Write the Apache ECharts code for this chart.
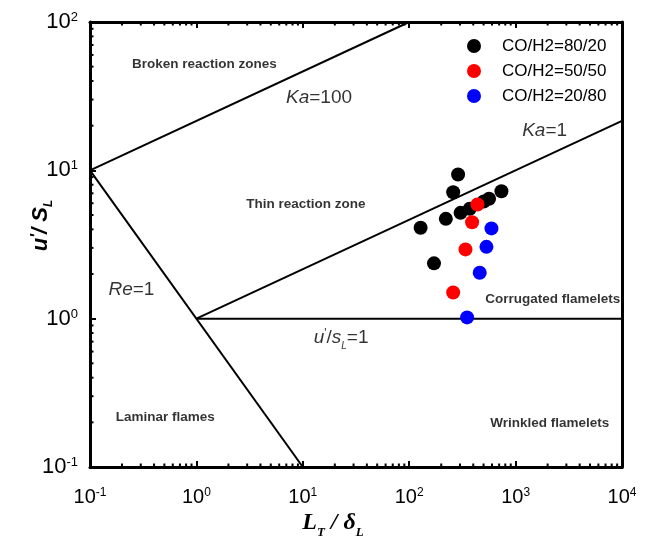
<!DOCTYPE html>
<html><head><meta charset="utf-8">
<script src="https://cdn.jsdelivr.net/npm/echarts@6/dist/echarts.min.js"></script>
<style>html,body{margin:0;padding:0;background:#fff}#c{width:649px;height:543px}</style>
</head><body><div id="c"></div>
<script>
// ---- data ----
const seriesNames = ['CO/H2=80/20', 'CO/H2=50/50', 'CO/H2=20/80'];
const co80 = [[128, 4.10], [171, 2.36], [221, 4.71], [259, 7.12], [288, 9.37], [304, 5.17], [371, 5.51], [502, 6.16], [563, 6.43], [736, 7.23]];
const co50 = [[438, 5.88], [390, 4.47], [338, 2.93], [259, 1.50]];
const co20 = [[593, 4.06], [532, 3.05], [460, 2.04], [350, 1.02]];
const lineKa100 = [[0.1, 10], [100, 100]];
const lineKa1 = [[1, 1], [10000, 21.544]];
const lineRe1 = [[0.1, 10], [10, 0.1]];
const lineU1 = [[1, 1], [10000, 1]];
const xTickExp = ['-1', '0', '1', '2', '3', '4'];
const yTickExp = ['-1', '0', '1', '2'];
const xDecades = [0.1, 1, 10, 100, 1000];
const yDecades = [0.1, 1, 10];
const minorMult = [2, 3, 4, 5, 6, 7, 8, 9];
const regionLabels = [
  ['Broken reaction zones', 1.19, 51.6],
  ['Thin reaction zone', 10.7, 5.88],
  ['Corrugated flamelets', 2230, 1.35],
  ['Laminar flames', 0.51, 0.216],
  ['Wrinkled flamelets', 2090, 0.197]
];
const lineLabels = [
  ['{i|Ka}=100', 14.2, 30.9],
  ['{i|Ka}=1', 1875, 18.5],
  ['{i|Re}=1', 0.245, 1.57],
  ["{i|u}{p|'}{n|/}{i|s}{sub|L}{n|=1}", 22.9, 0.748]
];
// ---------------

const SANS = '"Liberation Sans", Arial, sans-serif';
const SERIF = '"Liberation Serif", "Times New Roman", serif';

const xMinor = [], yMinor = [];
xDecades.forEach(d => minorMult.forEach(m => xMinor.push(d * m)));
yDecades.forEach(d => minorMult.forEach(m => yMinor.push(d * m)));

const minorData = [];
xMinor.forEach(v => { minorData.push([v, 0.1, 0]); minorData.push([v, 100, 1]); });
yMinor.forEach(v => { minorData.push([0.1, v, 2]); });

function expIndex(v) { return Math.round(Math.log10(v)); }

const chart = echarts.init(document.getElementById('c'), null, {renderer: 'canvas'});
const lineStyle = {color: '#000', width: 2};
function lineSeries(data) {
  return {type: 'line', data: data, symbol: 'none', silent: true, lineStyle: lineStyle, z: 2, animation: false};
}
const option = {
  animation: false,
  backgroundColor: '#fff',
  grid: {left: 90, right: 27, top: 22, bottom: 76, containLabel: false, outerBoundsMode: 'none'},
  legend: {
    data: seriesNames, orient: 'vertical', left: 462, top: 31,
    itemWidth: 46, itemHeight: 14, itemGap: 5, icon: 'circle',
    textStyle: {fontSize: 17, lineHeight: 20, fontFamily: SANS, color: '#000'}
  },
  xAxis: [{
    type: 'log', logBase: 10, min: 0.1, max: 10000,
    position: 'bottom',
    axisLine: {lineStyle: {color: '#000', width: 3}},
    axisTick: {inside: true, length: 6, lineStyle: {width: 2, color: '#000'}},
    splitLine: {show: false},
    axisLabel: {
      margin: 12, color: '#000', padding: [8, 0, 0, 0],
      formatter: v => '{b|10}{s|' + xTickExp[expIndex(v) + 1] + '}',
      rich: {b: {fontSize: 20, fontFamily: SANS}, s: {fontSize: 12, fontFamily: SANS, verticalAlign: 'top'}}
    },
    name: '{b|L}{sub|T}{b| / δ}{sub|L}', nameLocation: 'middle', nameGap: 44, nameMoveOverlap: false,
    nameTextStyle: {
      padding: [0, 46, 0, 0],
      rich: {
        b: {fontSize: 24, fontFamily: SERIF, fontWeight: 'bold', fontStyle: 'italic', color: '#000'},
        sub: {fontSize: 13, fontFamily: SERIF, fontWeight: 'bold', fontStyle: 'italic', color: '#000', verticalAlign: 'bottom', padding: [0, 0, -4, 0]}
      }
    }
  }, {
    type: 'log', logBase: 10, min: 0.1, max: 10000, position: 'top',
    axisLine: {lineStyle: {color: '#000', width: 3}},
    axisTick: {inside: true, length: 6, lineStyle: {width: 2, color: '#000'}},
    axisLabel: {show: false}, splitLine: {show: false}
  }],
  yAxis: [{
    type: 'log', logBase: 10, min: 0.1, max: 100,
    axisLine: {show: true, lineStyle: {color: '#000', width: 3}},
    axisTick: {show: true, inside: true, length: 6, lineStyle: {width: 2, color: '#000'}},
    splitLine: {show: false},
    axisLabel: {
      margin: 12, color: '#000',
      formatter: v => '{b|10}{s|' + yTickExp[expIndex(v) + 1] + '}',
      rich: {b: {fontSize: 22, fontFamily: SANS}, s: {fontSize: 13, fontFamily: SANS, verticalAlign: 'top'}}
    },
    name: "{b|u}{p|'}{b|/ S}{sub|L}", nameLocation: 'middle', nameGap: 38, nameRotate: 90, nameMoveOverlap: false,
    nameTextStyle: {
      padding: [0, 0, 0, 38],
      rich: {
        b: {fontSize: 22, fontFamily: SANS, fontWeight: 'bold', fontStyle: 'italic', color: '#000'},
        p: {fontSize: 16, fontFamily: SANS, fontWeight: 'bold', fontStyle: 'italic', color: '#000', verticalAlign: 'top'},
        sub: {fontSize: 12, fontFamily: SANS, fontWeight: 'bold', fontStyle: 'italic', color: '#000', verticalAlign: 'bottom', padding: [0, 0, -3, 0]}
      }
    }
  }, {
    type: 'log', logBase: 10, min: 0.1, max: 100, position: 'right',
    axisLine: {show: true, lineStyle: {color: '#000', width: 3}},
    axisTick: {show: false}, axisLabel: {show: false}, splitLine: {show: false}
  }],
  series: [
    lineSeries(lineKa100), lineSeries(lineKa1), lineSeries(lineRe1), lineSeries(lineU1),
    {
      type: 'custom', data: minorData, clip: false, silent: true, z: 3,
      renderItem: function (params, api) {
        const p = api.coord([api.value(0), api.value(1)]);
        const side = api.value(2);
        const len = 3.5;
        let x2 = p[0], y2 = p[1];
        if (side === 0) y2 = p[1] - len; else if (side === 1) y2 = p[1] + len; else x2 = p[0] + len;
        return {type: 'line', shape: {x1: p[0], y1: p[1], x2: x2, y2: y2}, style: {stroke: '#000', lineWidth: 2}};
      }
    },
    {type: 'scatter', name: seriesNames[0], data: co80, symbol: 'circle', symbolSize: 14, itemStyle: {color: '#000', opacity: 1}, z: 5},
    {type: 'scatter', name: seriesNames[1], data: co50, symbol: 'circle', symbolSize: 14, itemStyle: {color: '#ff0000', opacity: 1}, z: 6},
    {type: 'scatter', name: seriesNames[2], data: co20, symbol: 'circle', symbolSize: 14, itemStyle: {color: '#0000ff', opacity: 1}, z: 7},
    {
      type: 'scatter', symbolSize: 0, silent: true, z: 8,
      data: regionLabels.map(r => ({value: [r[1], r[2]], label: {formatter: r[0]}})),
      label: {show: true, position: 'inside', color: '#000', fontSize: 13.5, fontWeight: 'bold', fontFamily: SANS}
    },
    {
      type: 'scatter', symbolSize: 0, silent: true, z: 8,
      data: lineLabels.map(r => ({value: [r[1], r[2]], label: {formatter: r[0]}})),
      label: {
        show: true, position: 'inside', color: '#000', fontSize: 19, fontFamily: SANS,
        rich: {
          i: {fontSize: 19, fontStyle: 'italic', fontFamily: SANS, color: '#000'},
          n: {fontSize: 19, fontFamily: SANS, color: '#000'},
          p: {fontSize: 12, fontFamily: SANS, color: '#000', verticalAlign: 'top'},
          sub: {fontSize: 10, fontStyle: 'italic', fontFamily: SANS, color: '#000', verticalAlign: 'bottom', padding: [0, 0, -4, 0]}
        }
      }
    }
  ]
};
chart.setOption(option);
</script>
</body></html>
